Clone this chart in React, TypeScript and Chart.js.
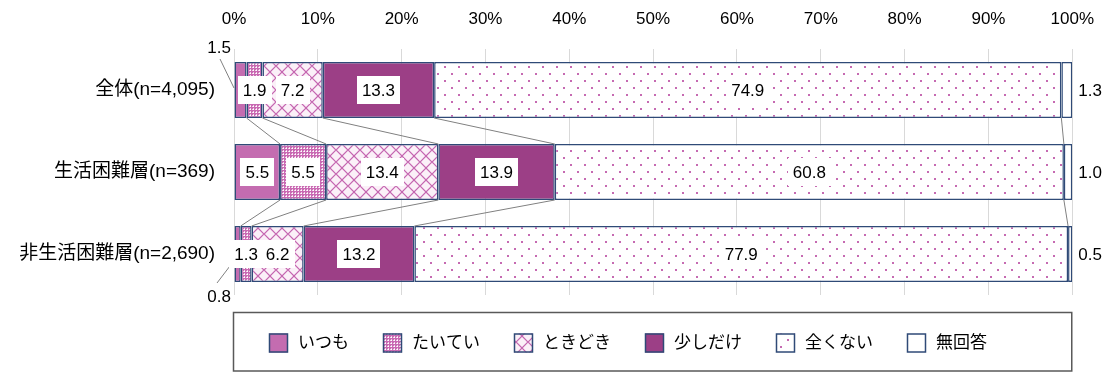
import React, { useEffect, useRef } from "react";
import { Chart, registerables } from "chart.js";

Chart.register(...registerables);

const categories = ["全体(n=4,095)", "生活困難層(n=369)", "非生活困難層(n=2,690)"];
const seriesNames = ["いつも", "たいてい", "ときどき", "少しだけ", "全くない", "無回答"];
const itsumo = [1.5, 5.5, 0.8];
const taitei = [1.9, 5.5, 1.3];
const tokidoki = [7.2, 13.4, 6.2];
const sukoshi = [13.3, 13.9, 13.2];
const mattaku = [74.9, 60.8, 77.9];
const mukaito = [1.3, 1.0, 0.5];
const seriesValues = [itsumo, taitei, tokidoki, sukoshi, mattaku, mukaito];
// where the いつも label sits for each category
const itsumoLabelSide = ["above", "inside", "below"];

// 100% stacked: each row is scaled to its own total, as the source chart does
const rowTotals = categories.map((_, c) => seriesValues.reduce((a, s) => a + s[c], 0));
const shares = seriesValues.map((s) => s.map((v, c) => (v / rowTotals[c]) * 100));

const NAVY = "#2F4A77";
const PINK = "#C46CB0";
const PLUM = "#9C3F86";
const LATIN = '"Liberation Sans", "Noto Sans CJK JP", sans-serif';

function makePattern(kind: string): CanvasPattern | string {
  const c = document.createElement("canvas");
  const g = c.getContext("2d")!;
  if (kind === "dense") {
    c.width = 3; c.height = 3;
    g.fillStyle = "#C96AB3"; g.fillRect(0, 0, 3, 3);
    g.fillStyle = "#F0D3E8"; g.fillRect(1, 0, 1, 1); g.fillRect(0, 1, 1, 1);
    g.fillStyle = "#FFFFFF"; g.fillRect(1, 1, 1, 1);
  } else if (kind === "lattice") {
    c.width = 12; c.height = 12;
    g.fillStyle = "#FBF0F8"; g.fillRect(0, 0, 12, 12);
    g.strokeStyle = "#C566B0"; g.lineWidth = 1.2;
    g.beginPath();
    g.moveTo(0, 6); g.lineTo(6, 0); g.lineTo(12, 6); g.lineTo(6, 12); g.closePath();
    g.stroke();
  } else if (kind === "sparse") {
    c.width = 14; c.height = 14;
    g.fillStyle = "#FFFFFF"; g.fillRect(0, 0, 14, 14);
    g.fillStyle = "#C66AB2";
    g.fillRect(3, 3, 2, 2); g.fillRect(10, 10, 2, 2);
  }
  const p = g.createPattern(c, "repeat");
  return p || "#fff";
}

export default function App() {
  const ref = useRef<HTMLCanvasElement>(null);

  useEffect(() => {
    if (!ref.current) return;
    const fills: (string | CanvasPattern)[] = [
      PINK,
      makePattern("dense"),
      makePattern("lattice"),
      PLUM,
      makePattern("sparse"),
      "#FFFFFF",
    ];

    const overlay = {
      id: "overlay",
      afterDatasetsDraw(chart: any) {
        const ctx: CanvasRenderingContext2D = chart.ctx;
        const xs = chart.scales.x;
        const metas = seriesValues.map((_, i) => chart.getDatasetMeta(i));
        // series lines
        ctx.save();
        ctx.strokeStyle = "#808080";
        ctx.lineWidth = 1;
        for (let c = 0; c < categories.length - 1; c++) {
          for (let s = 0; s < seriesValues.length - 1; s++) {
            const a = metas[s].data[c].getProps(["x", "y", "height"], true);
            const b = metas[s].data[c + 1].getProps(["x", "y", "height"], true);
            ctx.beginPath();
            ctx.moveTo(a.x, a.y + a.height / 2);
            ctx.lineTo(b.x, b.y - b.height / 2);
            ctx.stroke();
          }
        }
        // data labels
        ctx.font = `17px ${LATIN}`;
        ctx.textBaseline = "middle";
        const x0 = xs.getPixelForValue(0);
        const x100 = xs.getPixelForValue(100);
        for (let s = 0; s < seriesValues.length; s++) {
          for (let c = 0; c < categories.length; c++) {
            const v = seriesValues[s][c];
            const bar = metas[s].data[c].getProps(["x", "y", "base", "height"], true);
            const txt = v.toFixed(1);
            const w = ctx.measureText(txt).width;
            if (s === seriesValues.length - 1) {
              ctx.fillStyle = "#000";
              ctx.textAlign = "left";
              ctx.fillText(txt, x100 + 6, bar.y + 1);
              continue;
            }
            if (s === 0 && itsumoLabelSide[c] !== "inside") {
              const above = itsumoLabelSide[c] === "above";
              const ly = above ? bar.y - bar.height / 2 - 14 : bar.y + bar.height / 2 + 15;
              ctx.fillStyle = "#000";
              ctx.textAlign = "right";
              ctx.fillText(txt, x0 - 3, ly);
              ctx.beginPath();
              if (above) {
                ctx.moveTo(x0 - 14, ly + 11);
                ctx.lineTo(x0, bar.y - 2);
              } else {
                ctx.moveTo(x0 - 17, ly - 14);
                ctx.lineTo(x0 - 1, bar.y + 8);
              }
              ctx.strokeStyle = "#808080";
              ctx.stroke();
              continue;
            }
            const cx = (bar.x + bar.base) / 2;
            ctx.fillStyle = "#FFFFFF";
            ctx.fillRect(Math.round(cx - w / 2 - 5), Math.round(bar.y - 14), Math.round(w + 10), 28);
            ctx.fillStyle = "#000";
            ctx.textAlign = "center";
            ctx.fillText(txt, cx, bar.y + 1);
          }
        }
        ctx.restore();
      },
      afterDraw(chart: any) {
        const ctx: CanvasRenderingContext2D = chart.ctx;
        const area = chart.chartArea;
        ctx.save();
        // legend frame
        const top = area.bottom + 17;
        ctx.strokeStyle = "#595959";
        ctx.lineWidth = 1.5;
        ctx.strokeRect(area.left - 0.5, top + 0.5, area.right - area.left, chart.height - top - 1.5);
        ctx.font = `17px ${LATIN}`;
        ctx.textBaseline = "middle";
        ctx.textAlign = "left";
        let x = area.left + 35;
        const cy = top + 31;
        for (let s = 0; s < seriesNames.length; s++) {
          ctx.fillStyle = fills[s] as any;
          ctx.fillRect(x, cy - 9.5, 19, 19);
          ctx.strokeStyle = NAVY;
          ctx.lineWidth = 1.5;
          ctx.strokeRect(x + 0.5, cy - 9, 18, 18);
          ctx.fillStyle = "#000";
          ctx.fillText(seriesNames[s], x + 29, cy);
          x += 29 + ctx.measureText(seriesNames[s]).width + 34;
        }
        ctx.restore();
      },
    };

    const chart = new Chart(ref.current, {
      type: "bar",
      data: {
        labels: categories,
        datasets: shares.map((vals, i) => ({
          label: seriesNames[i],
          data: vals,
          backgroundColor: fills[i] as any,
          borderColor: NAVY,
          borderWidth: 1.5,
          borderSkipped: false,
          categoryPercentage: 1,
          barPercentage: 0.683,
        })),
      },
      options: {
        indexAxis: "y",
        responsive: false,
        animation: false,
        events: [],
        layout: { padding: { left: 0, right: 36, top: 0, bottom: 77 } },
        plugins: { legend: { display: false }, tooltip: { enabled: false } },
        scales: {
          x: {
            position: "top",
            stacked: true,
            min: 0,
            max: 100,
            ticks: {
              stepSize: 10,
              padding: 19,
              color: "#000",
              font: { size: 17, family: LATIN },
              callback: (v: any) => `${v}%`,
            },
            grid: { color: "#D9D9D9", lineWidth: 1, drawTicks: false },
            border: { display: false },
            afterFit: (scale: any) => { scale.height = 49; },
          },
          y: {
            stacked: true,
            ticks: {
              padding: 19,
              color: "#000",
              font: { size: 19, family: LATIN },
            },
            grid: { display: false, drawTicks: false },
            border: { display: false },
            afterFit: (scale: any) => { scale.width = 234; },
          },
        },
      },
      plugins: [overlay],
    } as any);
    return () => chart.destroy();
  }, []);

  return (
    <div style={{ position: "absolute", left: 0, top: 0, width: 1113, height: 372, background: "#fff" }}>
      <canvas ref={ref} width={1113} height={372} />
    </div>
  );
}
